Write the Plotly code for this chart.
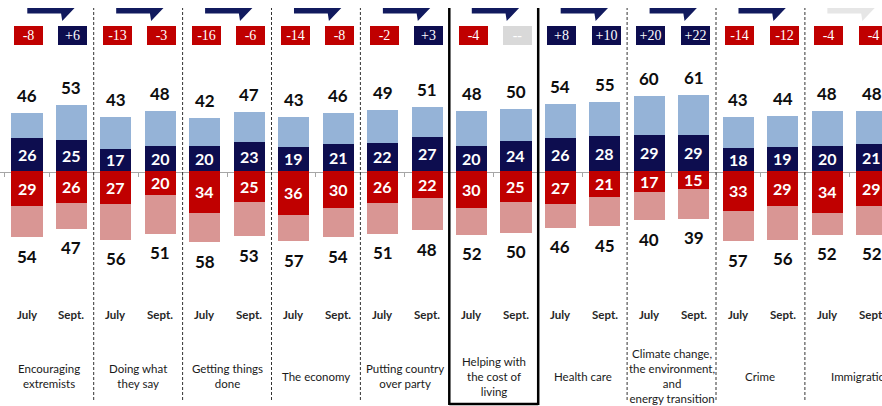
import plotly.graph_objects as go

# ---------------- data ----------------
categories = ["Encouraging<br>extremists", "Doing what<br>they say", "Getting things<br>done",
              "The economy", "Putting country<br>over party", "Helping with<br>the cost of<br>living",
              "Health care", "Climate change,<br>the environment,<br>and<br>energy transition",
              "Crime", "Immigration"]
periods = ["July", "Sept."]

pos_total_july = [46, 43, 42, 43, 49, 48, 54, 60, 43, 48]
pos_strong_july = [26, 17, 20, 19, 22, 20, 26, 29, 18, 20]
neg_total_july = [54, 56, 58, 57, 51, 52, 46, 40, 57, 52]
neg_strong_july = [29, 27, 34, 36, 26, 30, 27, 17, 33, 34]

pos_total_sept = [53, 48, 47, 46, 51, 50, 55, 61, 44, 48]
pos_strong_sept = [25, 20, 23, 21, 27, 24, 28, 29, 19, 21]
neg_total_sept = [47, 51, 53, 54, 48, 50, 45, 39, 56, 52]
neg_strong_sept = [26, 20, 25, 30, 22, 25, 21, 15, 29, 29]

net_labels_july = ["-8", "-13", "-16", "-14", "-2", "-4", "+8", "+20", "-14", "-4"]
net_labels_sept = ["+6", "-3", "-6", "-8", "+3", "--", "+10", "+22", "-12", "-4"]
highlight_group = 5

# ---------------- styles ----------------
NAVY = "#0D0D4F"
LIGHTBLUE = "#95B3D7"
RED = "#C00000"
PINK = "#D99694"
GRAY_BADGE = "#D9D9D9"
ARROW_NAVY = "#111A5E"
ARROW_GRAY = "#E6E6E6"
TXT = "#0D0D0D"
FONT = "Lato"

W, H = 882, 406
n = len(categories)
offset = 0.25
xs, pos_t, pos_s, neg_t, neg_s, per_lbl, badges = [], [], [], [], [], [], []
for k in range(n):
    xs += [k - offset, k + offset]
    pos_t += [pos_total_july[k], pos_total_sept[k]]
    pos_s += [pos_strong_july[k], pos_strong_sept[k]]
    neg_t += [neg_total_july[k], neg_total_sept[k]]
    neg_s += [neg_strong_july[k], neg_strong_sept[k]]
    per_lbl += periods
    badges += [net_labels_july[k], net_labels_sept[k]]

pos_soft = [t - s for t, s in zip(pos_t, pos_s)]
neg_soft = [t - s for t, s in zip(neg_t, neg_s)]

def py(px):
    """pixel from top -> paper fraction"""
    return 1 - px / H

fig = go.Figure()
bw = 0.35
fig.add_trace(go.Bar(x=xs, y=pos_s, marker=dict(color=NAVY, line_width=0), width=bw, hoverinfo="skip"))
fig.add_trace(go.Bar(x=xs, y=pos_soft, marker=dict(color=LIGHTBLUE, line_width=0), width=bw, hoverinfo="skip"))
fig.add_trace(go.Bar(x=xs, y=[-v for v in neg_s], marker=dict(color=RED, line_width=0), width=bw, hoverinfo="skip"))
fig.add_trace(go.Bar(x=xs, y=[-v for v in neg_soft], marker=dict(color=PINK, line_width=0), width=bw, hoverinfo="skip"))

ann = []
for i, x in enumerate(xs):
    # segment labels
    ann.append(dict(x=x, y=pos_s[i] / 2, text=str(pos_s[i]), showarrow=False, yanchor="middle",
                    font=dict(family=FONT, size=16, color="white", weight="bold")))
    ann.append(dict(x=x, y=-neg_s[i] / 2, text=str(neg_s[i]), showarrow=False, yanchor="middle",
                    font=dict(family=FONT, size=16, color="white", weight="bold")))
    # totals
    ann.append(dict(x=x, y=pos_t[i], text=str(pos_t[i]), showarrow=False, yshift=17.5, yanchor="middle",
                    font=dict(family=FONT, size=17, color=TXT, weight="bold")))
    ann.append(dict(x=x, y=-neg_t[i], text=str(neg_t[i]), showarrow=False, yshift=-19, yanchor="middle",
                    font=dict(family=FONT, size=17, color=TXT, weight="bold")))
    # period labels
    ann.append(dict(x=x, y=py(314), yref="paper", yanchor="middle", text=per_lbl[i], showarrow=False,
                    font=dict(family=FONT, size=11.5, color="#262626", weight="bold")))
    # net badges
    b = badges[i]
    bg = GRAY_BADGE if b == "--" else (NAVY if b.startswith("+") else RED)
    ann.append(dict(x=x, y=py(35), yref="paper", yanchor="middle", text=b, showarrow=False, xshift=1.5,
                    width=25, height=15, borderpad=1, borderwidth=1, bordercolor=bg, bgcolor=bg,
                    font=dict(family="Liberation Serif", size=14, color="white")))

for k in range(n):
    ann.append(dict(x=k, y=py(376), yref="paper", yanchor="middle", text=categories[k], showarrow=False,
                    xshift=(12 if k == n - 1 else 0),
                    font=dict(family=FONT, size=11.5, color="#1A1A1A")))

shapes = []
# separators
for k in range(n - 1):
    xline = k + 0.5
    if k in (highlight_group - 1, highlight_group):
        continue
    shapes.append(dict(type="line", xref="x", yref="paper", x0=xline, x1=xline,
                       y0=py(400), y1=py(8), line=dict(color="#333333", width=1, dash="3px,2px")))
# highlight box (left, right, bottom)
hl, hr = highlight_group - 0.5, highlight_group + 0.5
for xline in (hl, hr):
    shapes.append(dict(type="line", xref="x", yref="paper", x0=xline, x1=xline,
                       y0=py(405), y1=py(8), line=dict(color="black", width=2.5)))
shapes.append(dict(type="line", xref="x", yref="paper", x0=hl, x1=hr,
                   y0=py(404), y1=py(404), line=dict(color="black", width=2.5)))
# top arrows (single non-overlapping outline: band + downward head)
for k in range(n):
    c = ARROW_GRAY if k == n - 1 else ARROW_NAVY
    path = (f"M {k-0.247},{py(8)} L {k+0.285},{py(8)} L {k+0.146},{py(21)} "
            f"L {k+0.133},{py(13.5)} L {k-0.247},{py(13.5)} Z")
    shapes.append(dict(type="path", xref="x", yref="paper", path=path,
                       fillcolor=c, line=dict(width=0)))

x_left_px = 49.25
unit_px = 88.9
y0_px = 170.5
yscale = 1.24

fig.update_layout(
    width=W, height=H, margin=dict(l=0, r=0, t=0, b=0),
    paper_bgcolor="white", plot_bgcolor="white",
    barmode="relative", bargap=0, showlegend=False,
    annotations=ann, shapes=shapes,
    xaxis=dict(range=[-x_left_px / unit_px, (W - x_left_px) / unit_px],
               showgrid=False, zeroline=False, showticklabels=False,
               showline=True, linecolor="#A6A6A6", linewidth=1,
               ticks="outside", ticklen=4, tickcolor="#A6A6A6",
               tickvals=[v / 2 for v in range(-1, 2 * n + 1)],
               anchor="free", position=py(171.5), layer="below traces", fixedrange=True),
    yaxis=dict(range=[-(H - y0_px) / yscale, y0_px / yscale], visible=False,
               showgrid=False, zeroline=False, fixedrange=True),
)

fig.write_html("out.html")
